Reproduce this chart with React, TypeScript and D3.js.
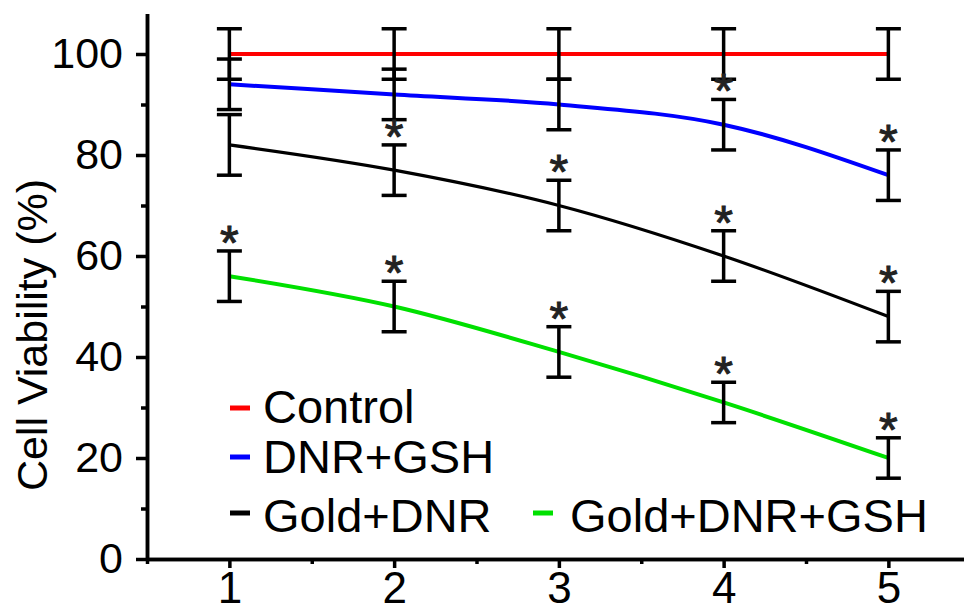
import * as d3 from "d3";
import { useRef, useEffect } from "react";

const doses = [1, 2, 3, 4, 5];
const seriesNames = ["Control", "DNR+GSH", "Gold+DNR", "Gold+DNR+GSH"];
const seriesColors = ["#ff0000", "#0000ff", "#000000", "#00e000"];
const controlValues = [100, 100, 100, 100, 100];
const controlErrors = [5, 5, 5, 5, 5];
const dnrGshValues = [94, 92, 90, 86, 76];
const dnrGshErrors = [5, 5, 5, 5, 5];
const goldDnrValues = [82, 77, 70, 60, 48];
const goldDnrErrors = [6, 5, 5, 5, 5];
const goldDnrGshValues = [56, 50, 41, 31, 20];
const goldDnrGshErrors = [5, 5, 5, 4, 4];
// significance marks (*) per series and dose
const controlStars = [false, false, false, false, false];
const dnrGshStars = [false, false, false, true, true];
const goldDnrStars = [false, true, true, true, true];
const goldDnrGshStars = [true, true, true, true, true];
const yTicks = [0, 20, 40, 60, 80, 100];
const yMinorTicks = [10, 30, 50, 70, 90];
const xMinorTicks = [0.5, 1.5, 2.5, 3.5, 4.5];

const FONT = "Arial, 'Liberation Sans', sans-serif";

export default function App() {
  const width = 964;
  const height = 612;
  const marginLeft = 147;
  const marginBottom = 53;

  const gx = useRef<SVGGElement>(null);
  const gxMinor = useRef<SVGGElement>(null);
  const gy = useRef<SVGGElement>(null);
  const gyMinor = useRef<SVGGElement>(null);

  const x = d3.scaleLinear().domain([0.5, 5.5]).range([marginLeft, marginLeft + 5 * 164.75]);
  const y = d3.scaleLinear().domain([0, 108]).range([height - marginBottom, height - marginBottom - 108 * 5.05]);

  const series = [
    { values: controlValues, errors: controlErrors, stars: controlStars, width: 4 },
    { values: dnrGshValues, errors: dnrGshErrors, stars: dnrGshStars, width: 4 },
    { values: goldDnrValues, errors: goldDnrErrors, stars: goldDnrStars, width: 3.2 },
    { values: goldDnrGshValues, errors: goldDnrGshErrors, stars: goldDnrGshStars, width: 4 },
  ];

  const line = d3.line<number>()
    .x((_, i) => x(doses[i]))
    .y(d => y(d))
    .curve(d3.curveMonotoneX);

  useEffect(() => {
    const style = (g: any, size: number) => {
      g.select(".domain").attr("stroke-width", 3.5);
      g.selectAll(".tick line").attr("stroke-width", 3.5);
      g.selectAll("text").style("font-size", `${size}px`).style("font-family", FONT).attr("fill", "#000");
    };
    d3.select(gx.current)
      .call(d3.axisBottom(x).tickValues(doses).tickFormat(d3.format("d")).tickSize(9).tickSizeOuter(0).tickPadding(4))
      .call(style, 44);
    d3.select(gxMinor.current)
      .call(d3.axisBottom(x).tickValues(xMinorTicks).tickFormat(() => "").tickSize(5).tickSizeOuter(0))
      .call(style, 44);
    d3.select(gy.current)
      .call(d3.axisLeft(y).tickValues(yTicks).tickSize(11).tickSizeOuter(0).tickPadding(13))
      .call(style, 43);
    d3.select(gyMinor.current)
      .call(d3.axisLeft(y).tickValues(yMinorTicks).tickFormat(() => "").tickSize(6).tickSizeOuter(0))
      .call(style, 43);
  }, [gx, gy, x, y]);

  const legendRows = [
    { mx: 230, my: 408, tx: 263, ty: 423 },
    { mx: 230, my: 457, tx: 263, ty: 473 },
    { mx: 230, my: 513, tx: 263, ty: 532 },
    { mx: 533, my: 513, tx: 570, ty: 532 },
  ];

  return (
    <svg width={width} height={height} style={{ position: "absolute", left: 0, top: 0, background: "#fff" }}>
      <g ref={gxMinor} transform={`translate(0,${height - marginBottom})`} />
      <g ref={gx} transform={`translate(0,${height - marginBottom})`} />
      <g ref={gyMinor} transform={`translate(${marginLeft},0)`} />
      <g ref={gy} transform={`translate(${marginLeft},0)`} />
      <text
        transform={`translate(47,${335}) rotate(-90)`}
        textAnchor="middle"
        fontFamily={FONT}
        fontSize={43}
      >
        Cell Viability (%)
      </text>

      {series.map((s, k) => (
        <path key={k} d={line(s.values) || ""} fill="none" stroke={seriesColors[k]} strokeWidth={s.width} />
      ))}

      <g stroke="#000" strokeWidth={3.5}>
        {series.map((s, k) =>
          s.values.map((v, i) => {
            const cx = x(doses[i]);
            const top = y(v + s.errors[i]);
            const bot = y(v - s.errors[i]);
            return (
              <g key={`${k}-${i}`}>
                <line x1={cx} x2={cx} y1={top} y2={bot} />
                <line x1={cx - 12.5} x2={cx + 12.5} y1={top} y2={top} />
                <line x1={cx - 12.5} x2={cx + 12.5} y1={bot} y2={bot} />
              </g>
            );
          })
        )}
      </g>

      <g fill="#222" stroke="#222" strokeWidth={1} fontFamily={FONT} fontSize={48} textAnchor="middle">
        {series.map((s, k) =>
          s.values.map((v, i) =>
            s.stars[i] ? (
              <text key={`${k}-${i}`} x={x(doses[i])} y={y(v + s.errors[i]) + 8}>*</text>
            ) : null
          )
        )}
      </g>

      <g fontFamily={FONT} fontSize={47}>
        {seriesNames.map((name, k) => (
          <g key={name}>
            <line
              x1={legendRows[k].mx}
              x2={legendRows[k].mx + 20}
              y1={legendRows[k].my}
              y2={legendRows[k].my}
              stroke={seriesColors[k]}
              strokeWidth={5}
            />
            <text x={legendRows[k].tx} y={legendRows[k].ty}>{name}</text>
          </g>
        ))}
      </g>
    </svg>
  );
}
